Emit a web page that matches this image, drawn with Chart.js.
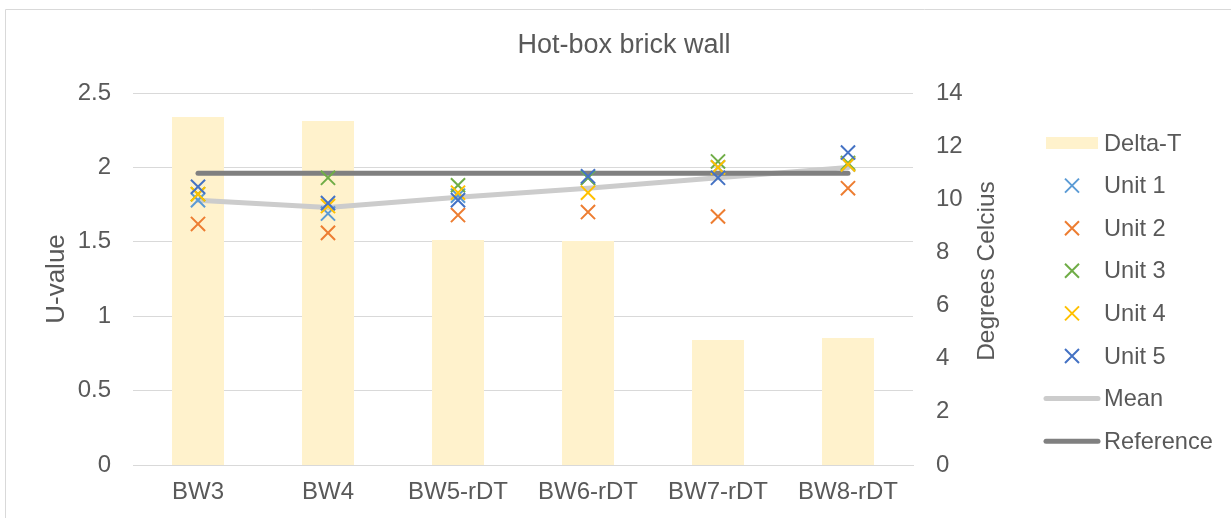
<!DOCTYPE html>
<html>
<head>
<meta charset="utf-8">
<script src="https://cdn.jsdelivr.net/npm/chart.js@4.4.1/dist/chart.umd.min.js"></script>
<style>
  html, body { margin: 0; padding: 0; background: #ffffff; }
  canvas { display: block; }
</style>
</head>
<body>
<canvas id="c" width="1231" height="518"></canvas>
<script>
// ---- data ----
const categories = ['BW3', 'BW4', 'BW5-rDT', 'BW6-rDT', 'BW7-rDT', 'BW8-rDT'];
const deltaT    = [13.1, 12.95, 8.47, 8.43, 4.70, 4.78];
const unit1     = [1.78, 1.69, 1.81, 1.93, 2.00, 2.02];
const unit2     = [1.62, 1.56, 1.68, 1.70, 1.67, 1.86];
const unit3     = [1.82, 1.93, 1.88, 1.93, 2.04, 2.03];
const unit4     = [1.82, 1.74, 1.83, 1.83, 2.00, 2.02];
const unit5     = [1.87, 1.76, 1.78, 1.94, 1.93, 2.10];
const meanVals  = [1.78, 1.73, 1.80, 1.86, 1.93, 2.00];
const refVals   = [1.96, 1.96, 1.96, 1.96, 1.96, 1.96];
const uTicks    = [0, 0.5, 1, 1.5, 2, 2.5];
const tTicks    = [0, 2, 4, 6, 8, 10, 12, 14];

const FONT = "'Liberation Sans', Arial, sans-serif";
const TXT = '#595959';

const unitColors = ['#5B9BD5', '#ED7D31', '#70AD47', '#FFC000', '#4472C4'];
const unitData = [unit1, unit2, unit3, unit4, unit5];

const unitSets = unitData.map((d, i) => ({
  type: 'line',
  label: 'Unit ' + (i + 1),
  data: d,
  yAxisID: 'y',
  showLine: false,
  pointStyle: 'crossRot',
  pointRadius: 10,
  pointHoverRadius: 10,
  pointBorderWidth: 2,
  pointBorderColor: unitColors[i],
  borderColor: unitColors[i],
  backgroundColor: unitColors[i],
  order: 5 - i
}));

const legendItems = [
  { kind: 'rect', color: '#FFF2CC', text: 'Delta-T' },
  { kind: 'cross', color: unitColors[0], text: 'Unit 1' },
  { kind: 'cross', color: unitColors[1], text: 'Unit 2' },
  { kind: 'cross', color: unitColors[2], text: 'Unit 3' },
  { kind: 'cross', color: unitColors[3], text: 'Unit 4' },
  { kind: 'cross', color: unitColors[4], text: 'Unit 5' },
  { kind: 'line', color: '#CCCCCC', text: 'Mean' },
  { kind: 'line', color: '#808080', text: 'Reference' }
];

const decor = {
  id: 'decor',
  afterDraw(chart) {
    const ctx = chart.ctx;
    ctx.save();
    // outer border (top and left visible)
    ctx.strokeStyle = '#D9D9D9';
    ctx.lineWidth = 1;
    ctx.beginPath();
    ctx.moveTo(5.5, 518);
    ctx.lineTo(5.5, 9.5);
    ctx.lineTo(1231, 9.5);
    ctx.stroke();

    // title
    ctx.fillStyle = TXT;
    ctx.font = '27px ' + FONT;
    ctx.textAlign = 'center';
    ctx.textBaseline = 'middle';
    ctx.fillText('Hot-box brick wall', 624, 46);

    // right axis title
    ctx.save();
    ctx.translate(987, 271);
    ctx.rotate(-Math.PI / 2);
    ctx.font = '24.5px ' + FONT;
    ctx.fillText('Degrees Celcius', 0, 0);
    ctx.restore();

    // legend
    ctx.textAlign = 'left';
    ctx.font = '23.6px ' + FONT;
    legendItems.forEach((it, i) => {
      const y = 143 + i * 42.6;
      if (it.kind === 'rect') {
        ctx.fillStyle = it.color;
        ctx.fillRect(1046, y - 6, 52, 12);
      } else if (it.kind === 'cross') {
        ctx.strokeStyle = it.color;
        ctx.lineWidth = 2;
        ctx.beginPath();
        ctx.moveTo(1065, y - 7); ctx.lineTo(1079, y + 7);
        ctx.moveTo(1079, y - 7); ctx.lineTo(1065, y + 7);
        ctx.stroke();
      } else {
        ctx.strokeStyle = it.color;
        ctx.lineWidth = 5;
        ctx.lineCap = 'round';
        ctx.beginPath();
        ctx.moveTo(1046, y); ctx.lineTo(1098, y);
        ctx.stroke();
      }
      ctx.fillStyle = TXT;
      ctx.fillText(it.text, 1104, y + 1);
    });
    ctx.restore();
  }
};

const tickFont = { family: FONT, size: 24 };

new Chart(document.getElementById('c').getContext('2d'), {
  type: 'bar',
  data: {
    labels: categories,
    datasets: [
      ...unitSets,
      {
        type: 'line', label: 'Reference', data: refVals, yAxisID: 'y',
        borderColor: '#808080', borderWidth: 5, pointRadius: 0, pointHoverRadius: 0,
        borderCapStyle: 'round', fill: false, order: 6
      },
      {
        type: 'line', label: 'Mean', data: meanVals, yAxisID: 'y',
        borderColor: '#CCCCCC', borderWidth: 5, pointRadius: 0, pointHoverRadius: 0,
        borderCapStyle: 'round', borderJoinStyle: 'round', fill: false, order: 7
      },
      {
        type: 'bar', label: 'Delta-T', data: deltaT, yAxisID: 'y1',
        backgroundColor: '#FFF2CC', categoryPercentage: 0.4, barPercentage: 1, order: 8
      }
    ]
  },
  options: {
    responsive: false,
    animation: false,
    devicePixelRatio: 1,
    layout: { padding: { top: 93, right: 218, left: 0, bottom: 0 } },
    plugins: { legend: { display: false }, tooltip: { enabled: false }, title: { display: false } },
    scales: {
      x: {
        grid: { display: false, drawTicks: false },
        border: { display: true, color: '#D9D9D9', width: 1 },
        ticks: { font: tickFont, color: TXT, padding: 13, maxRotation: 0 },
        afterFit: s => { s.height = 53; }
      },
      y: {
        position: 'left', min: 0, max: 2.5,
        afterBuildTicks: s => { s.ticks = uTicks.map(v => ({ value: v })); },
        ticks: { font: tickFont, color: TXT, padding: 22, callback: v => String(v) },
        grid: { color: '#D9D9D9', drawTicks: false, lineWidth: 1 },
        border: { display: false },
        title: { display: true, text: 'U-value', font: { family: FONT, size: 26 }, color: TXT, padding: { top: 41, bottom: 0 } },
        afterFit: s => { s.width = 133; }
      },
      y1: {
        position: 'right', min: 0, max: 14,
        afterBuildTicks: s => { s.ticks = tTicks.map(v => ({ value: v })); },
        ticks: { font: tickFont, color: TXT, padding: 23, callback: v => String(v) },
        grid: { display: false, drawTicks: false },
        border: { display: false },
        afterFit: s => { s.width = 100; }
      }
    }
  },
  plugins: [decor]
});
</script>
</body>
</html>
